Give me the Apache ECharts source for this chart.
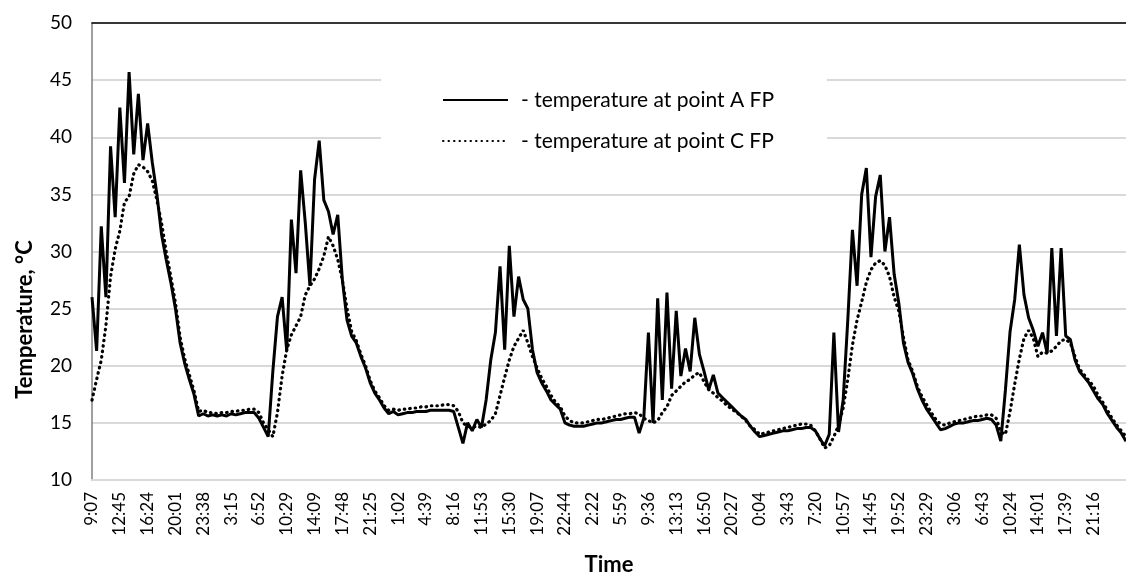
<!DOCTYPE html>
<html>
<head>
<meta charset="utf-8">
<script src="https://cdn.jsdelivr.net/npm/echarts@6/dist/echarts.min.js"></script>
<style>
html,body{margin:0;padding:0;background:#fff;}
#chart{width:1126px;height:574px;}
</style>
</head>
<body>
<div id="chart"></div>
<script>
// Tick labels shown on the time axis (one every 6 samples)
var tickLabels = ["9:07","12:45","16:24","20:01","23:38","3:15","6:52","10:29","14:09","17:48","21:25","1:02","4:39","8:16","11:53","15:30","19:07","22:44","2:22","5:59","9:36","13:13","16:50","20:27","0:04","3:43","7:20","10:57","14:45","19:52","23:29","3:06","6:43","10:24","14:01","17:39","21:16"];
var samplesPerTick = 6;

// Temperature at point A FP (°C)
var tempA = [
26.0,21.3,32.2,26.0,39.2,33.0,42.6,36.0,45.7,38.5,
43.8,38.0,41.2,37.8,35.0,31.5,29.3,27.3,25.0,22.0,
20.2,18.8,17.5,15.6,15.8,15.6,15.7,15.6,15.7,15.6,
15.8,15.7,15.8,15.9,15.9,15.9,15.4,14.6,13.8,19.5,
24.3,26.0,21.3,32.8,28.1,37.1,32.5,27.0,36.3,39.7,
34.5,33.5,31.5,33.2,27.5,24.0,22.6,22.0,20.8,19.8,
18.5,17.6,17.0,16.3,15.8,16.0,15.7,15.8,15.9,15.9,
16.0,16.0,16.0,16.1,16.1,16.1,16.1,16.1,16.0,14.6,
13.2,15.0,14.3,15.3,14.6,17.0,20.5,22.9,28.7,21.4,
30.5,24.3,27.8,25.8,25.0,21.4,19.4,18.5,17.8,17.0,
16.6,16.2,15.0,14.8,14.7,14.7,14.7,14.8,14.9,15.0,
15.0,15.1,15.2,15.3,15.3,15.4,15.5,15.5,14.1,15.4,
22.9,15.0,25.9,17.0,26.4,18.0,24.8,19.1,21.5,19.5,
24.2,21.0,19.5,17.9,19.2,17.6,17.2,16.8,16.4,16.0,
15.6,15.3,14.7,14.2,13.8,13.9,14.0,14.1,14.2,14.3,
14.3,14.4,14.5,14.5,14.6,14.6,14.3,13.6,13.0,14.0,
22.9,14.2,17.0,24.0,31.9,27.0,35.0,37.3,29.5,34.8,
36.7,30.0,33.0,28.0,25.5,22.0,20.3,19.3,18.0,17.0,
16.2,15.6,15.0,14.4,14.5,14.7,14.9,15.0,15.0,15.1,
15.2,15.2,15.3,15.4,15.3,14.8,13.4,17.9,23.0,25.8,
30.6,26.2,24.2,23.1,21.7,22.9,21.1,30.3,22.6,30.3,
22.6,22.3,20.5,19.5,19.0,18.5,17.8,17.1,16.6,15.8,
15.2,14.6,14.1,13.4
];

// Temperature at point C FP (°C)
var tempC = [
17.0,18.8,20.5,23.5,27.8,30.2,31.8,34.3,34.8,36.8,
37.6,37.4,37.0,36.2,34.5,32.5,30.0,27.8,25.5,22.5,
20.6,19.2,17.8,16.0,16.1,15.9,15.9,15.8,15.9,15.9,
16.0,16.0,16.1,16.1,16.2,16.2,15.9,15.0,14.4,13.8,
15.9,19.1,21.4,22.7,23.5,24.3,26.2,27.0,27.6,28.5,
29.6,31.3,30.5,29.3,27.5,25.0,23.0,22.2,21.0,20.0,
18.7,17.8,17.2,16.5,16.1,16.2,16.1,16.2,16.2,16.3,
16.3,16.4,16.4,16.5,16.5,16.5,16.6,16.6,16.5,16.0,
15.0,14.7,14.6,14.7,14.6,14.9,15.2,15.8,17.4,19.0,
20.5,21.7,22.4,23.1,22.0,20.8,19.8,18.9,18.2,17.4,
16.8,16.4,15.6,15.2,15.0,15.0,15.0,15.1,15.2,15.3,
15.3,15.4,15.5,15.6,15.7,15.8,15.8,15.9,15.8,15.4,
15.2,15.0,15.2,15.9,16.4,17.4,17.8,18.2,18.6,18.8,
19.2,19.4,18.6,17.9,17.6,17.2,16.9,16.5,16.2,15.9,
15.6,15.2,14.7,14.4,14.0,14.1,14.2,14.3,14.4,14.5,
14.6,14.7,14.8,14.9,14.9,14.8,14.3,13.6,12.8,13.0,
13.8,14.8,16.3,18.8,21.8,24.0,25.6,27.3,28.4,29.0,
29.2,28.8,27.8,26.0,24.8,22.5,20.5,19.5,18.2,17.3,
16.6,15.9,15.3,14.9,14.8,15.0,15.1,15.2,15.3,15.4,
15.5,15.6,15.6,15.7,15.7,15.4,14.2,14.0,16.0,18.4,
20.6,22.4,23.1,22.4,20.8,21.2,21.1,21.3,21.7,22.2,
22.3,22.0,20.8,19.7,19.2,18.7,18.2,17.4,16.8,16.1,
15.4,14.8,14.3,13.8
];

var seriesNames = ["- temperature at point A FP", "- temperature at point C FP"];

var categories = tempA.map(function (v, i) {
  return (i % samplesPerTick === 0 && tickLabels[i / samplesPerTick] !== undefined) ? tickLabels[i / samplesPerTick] : '';
});

var font = 'Lato, "Open Sans", sans-serif';
var chart = echarts.init(document.getElementById('chart'), null, {renderer: 'canvas'});
chart.setOption({
  animation: false,
  backgroundColor: '#fff',
  grid: {left: 92, right: 0, top: 23, bottom: 94, containLabel: false, outerBoundsMode: 'none'},
  legend: {
    orient: 'vertical',
    left: 381,
    top: 74,
    padding: [15, 53, 15, 61],
    backgroundColor: '#fff',
    itemWidth: 65,
    itemHeight: 20,
    itemGap: 19,
    itemStyle: {opacity: 0},
    textStyle: {fontFamily: font, fontSize: 21, color: '#000', lineHeight: 22, padding: [0, 0, 0, 8]},
    data: seriesNames
  },
  xAxis: [{
    type: 'category',
    data: categories,
    boundaryGap: false,
    axisLine: {show: true, lineStyle: {color: '#d9d9d9', width: 2}},
    axisTick: {show: false},
    axisLabel: {interval: samplesPerTick - 1, rotate: 90, fontFamily: font, fontSize: 17, color: '#000', margin: 12},
    splitLine: {show: false},
    name: 'Time',
    nameLocation: 'middle',
    nameGap: 74,
    nameTextStyle: {fontFamily: font, fontSize: 22, fontWeight: 'bold', color: '#000'}
  }, {
    type: 'category',
    data: categories,
    boundaryGap: false,
    position: 'top',
    axisLine: {show: true, lineStyle: {color: '#000', width: 1.5}},
    axisTick: {show: false},
    axisLabel: {show: false},
    splitLine: {show: false}
  }],
  yAxis: {
    type: 'value',
    min: 10, max: 50, interval: 5,
    axisLine: {show: true, lineStyle: {color: '#7f7f7f', width: 1.5}},
    axisTick: {show: false},
    axisLabel: {fontFamily: font, fontSize: 19, color: '#000', margin: 20},
    splitLine: {show: true, lineStyle: {color: '#d9d9d9', width: 2}},
    name: 'Temperature, °C',
    nameLocation: 'middle',
    nameGap: 56,
    nameTextStyle: {fontFamily: font, fontSize: 22, fontWeight: 'bold', color: '#000', padding: [0, 136, 0, 0]}
  },
  series: [{
    name: seriesNames[1],
    type: 'line',
    data: tempC,
    symbol: 'none',
    z: 2,
    lineStyle: {color: '#000', width: 3.2, type: [0.5, 5], cap: 'round'},
    itemStyle: {color: '#000'}
  }, {
    name: seriesNames[0],
    type: 'line',
    data: tempA,
    symbol: 'none',
    z: 3,
    lineStyle: {color: '#000', width: 3},
    itemStyle: {color: '#000'}
  }]
});
</script>
</body>
</html>
